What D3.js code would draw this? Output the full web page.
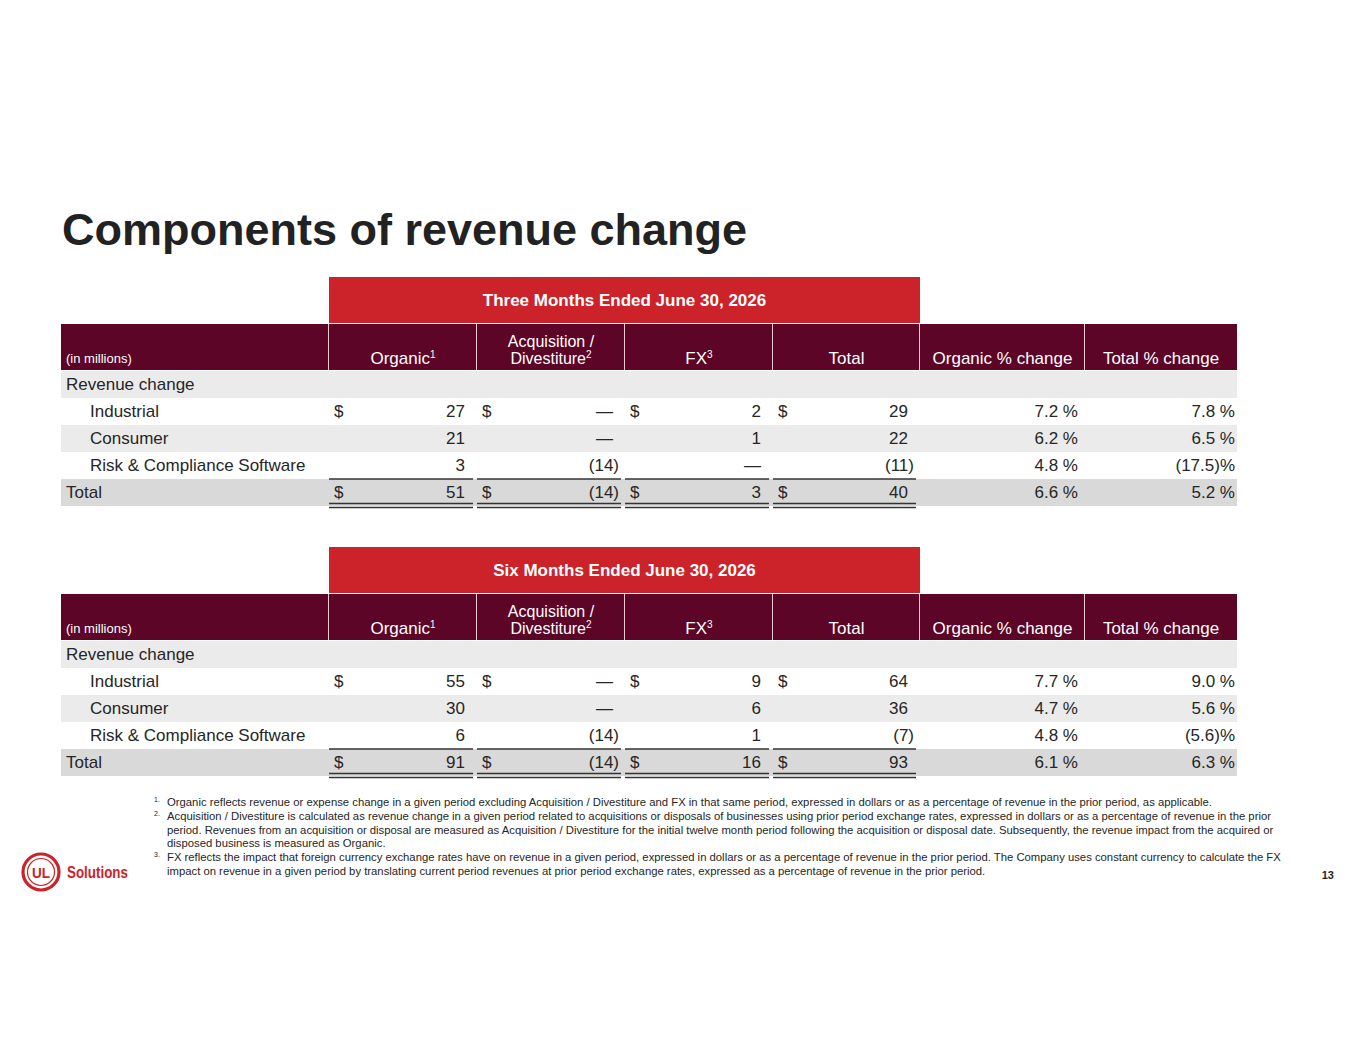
<!DOCTYPE html>
<html>
<head>
<meta charset="utf-8">
<script src="https://cdn.jsdelivr.net/npm/d3@7"></script>
<style>
  html, body { margin: 0; padding: 0; background: #fff; }
  svg { display: block; font-family: "Liberation Sans", Arial, sans-serif; }
</style>
</head>
<body>
<svg id="slide" width="1365" height="1055"></svg>
<script>
// ---- data ----
var pageTitle = "Components of revenue change";
var periodTitles = ["Three Months Ended June 30, 2026", "Six Months Ended June 30, 2026"];
var segments = ["Industrial", "Consumer", "Risk & Compliance Software"];
var columnHeaders = [["Organic", "1"], ["Acquisition /", "Divestiture", "2"], ["FX", "3"], ["Total", ""], ["Organic % change", ""], ["Total % change", ""]];

// three months (null = dash)
var threeOrganic   = [27, 21, 3];
var threeAcq       = [null, null, -14];
var threeFx        = [2, 1, null];
var threeTotal     = [29, 22, -11];
var threeOrgPct    = [7.2, 6.2, 4.8];
var threeTotPct    = [7.8, 6.5, -17.5];
var threeTotalsRow = [51, -14, 3, 40, 6.6, 5.2];

// six months
var sixOrganic   = [55, 30, 6];
var sixAcq       = [null, null, -14];
var sixFx        = [9, 6, 1];
var sixTotal     = [64, 36, -7];
var sixOrgPct    = [7.7, 4.7, 4.8];
var sixTotPct    = [9.0, 5.6, -5.6];
var sixTotalsRow = [91, -14, 16, 93, 6.1, 6.3];

var footnotes = [
  ["1.", ["Organic reflects revenue or expense change in a given period excluding Acquisition / Divestiture and FX in that same period, expressed in dollars or as a percentage of revenue in the prior period, as applicable."]],
  ["2.", ["Acquisition / Divestiture is calculated as revenue change in a given period related to acquisitions or disposals of businesses using prior period exchange rates, expressed in dollars or as a percentage of revenue in the prior",
          "period. Revenues from an acquisition or disposal are measured as Acquisition / Divestiture for the initial twelve month period following the acquisition or disposal date. Subsequently, the revenue impact from the acquired or",
          "disposed business is measured as Organic."]],
  ["3.", ["FX reflects the impact that foreign currency exchange rates have on revenue in a given period, expressed in dollars or as a percentage of revenue in the prior period. The Company uses constant currency to calculate the FX",
          "impact on revenue in a given period by translating current period revenues at prior period exchange rates, expressed as a percentage of revenue in the prior period."]]
];
var pageNumber = "13";

// ---- style / layout ----
var RED = "#cc2229", MAROON = "#5c0527", TEXT = "#262626";
var LIGHT = "#ebebeb", DARK = "#d9d9d9", RULE = "#333";
var colWidths = [268, 148, 148, 148, 147, 165, 152];
var tableLeft = 61;
var rowH = 27, headH = 46;

var svg = d3.select("#slide");

// column x via a linear scale over cumulative width
var edges = [0].concat(Array.from(d3.cumsum(colWidths)));
var xs = d3.scaleLinear().domain([0, 1]).range([tableLeft, tableLeft + 1]);
function colL(i) { return xs(edges[i]); }
function colR(i) { return xs(edges[i + 1]); }

function fmtVal(v) {
  if (v === null) return "—";
  if (v < 0) return "(" + Math.abs(v) + ")";
  return String(v);
}
function fmtPct(v) {
  if (v < 0) return "(" + Math.abs(v).toFixed(1) + ")%";
  return v.toFixed(1) + " %";
}

svg.append("text")
  .attr("x", 62).attr("y", 245)
  .attr("font-size", 45).attr("font-weight", "bold")
  .attr("fill", "#222")
  .text(pageTitle);

function drawTable(top, title, cols, totalsRow) {
  var g = svg.append("g");
  var bandTop = top, headTop = top + headH + 1, bodyTop = headTop + headH + 1;

  // red period band
  g.append("rect")
    .attr("x", colL(1)).attr("y", bandTop)
    .attr("width", colR(4) - colL(1)).attr("height", headH)
    .attr("fill", RED);
  g.append("text")
    .attr("x", (colL(1) + colR(4)) / 2).attr("y", bandTop + 29)
    .attr("text-anchor", "middle").attr("fill", "#fff")
    .attr("font-size", 17).attr("font-weight", "bold")
    .text(title);

  // header row
  g.append("rect")
    .attr("x", colL(0)).attr("y", headTop)
    .attr("width", colR(6) - colL(0)).attr("height", headH)
    .attr("fill", MAROON);
  d3.range(1, 7).forEach(function(i) {
    g.append("line")
      .attr("x1", colL(i) - 0.5).attr("x2", colL(i) - 0.5)
      .attr("y1", headTop).attr("y2", headTop + headH)
      .attr("stroke", "#e9c9cf").attr("stroke-width", 1);
  });
  g.append("text")
    .attr("x", colL(0) + 5).attr("y", headTop + 39)
    .attr("fill", "#fff").attr("font-size", 13)
    .text("(in millions)");
  columnHeaders.forEach(function(h, i) {
    var cx = (colL(i + 1) + colR(i + 1)) / 2;
    var lines = h.length === 3 ? [h[0], h[1]] : [h[0]];
    var sup = h[h.length - 1];
    lines.forEach(function(line, j) {
      var t = g.append("text")
        .attr("x", cx).attr("y", headTop + 40 - (lines.length - 1 - j) * 17)
        .attr("text-anchor", "middle").attr("fill", "#fff")
        .attr("font-size", lines.length > 1 ? 16 : 17);
      t.append("tspan").text(line);
      if (j === lines.length - 1 && sup) {
        t.append("tspan").attr("font-size", 10).attr("dy", -6).text(sup);
      }
    });
  });

  // body rows
  var rowNames = ["Revenue change"].concat(segments).concat(["Total"]);
  var y = d3.scaleBand().domain(d3.range(rowNames.length))
    .range([bodyTop, bodyTop + rowH * rowNames.length]).padding(0);
  var fills = [LIGHT, "#fff", LIGHT, "#fff", DARK];

  g.selectAll(".rowbg").data(rowNames).join("rect")
    .attr("x", colL(0)).attr("y", function(d, i) { return y(i); })
    .attr("width", colR(6) - colL(0)).attr("height", y.bandwidth())
    .attr("fill", function(d, i) { return fills[i]; });

  g.selectAll(".rowlabel").data(rowNames).join("text")
    .attr("x", function(d, i) { return (i === 0 || i === rowNames.length - 1) ? colL(0) + 5 : colL(0) + 29; })
    .attr("y", function(d, i) { return y(i) + 19; })
    .attr("fill", TEXT).attr("font-size", 17)
    .text(function(d) { return d; });

  function cell(ci, ri, v, isPct, dollar) {
    var str = isPct ? fmtPct(v) : fmtVal(v);
    var right = colR(ci + 1);
    var xEnd = (v !== null && v < 0) ? right - 6 : right - 12;
    if (isPct) xEnd = (ci === 4) ? right - 7 : right - 2;
    g.append("text")
      .attr("x", xEnd).attr("y", y(ri) + 19)
      .attr("text-anchor", "end").attr("fill", TEXT).attr("font-size", 17)
      .text(str);
    if (dollar) {
      g.append("text")
        .attr("x", colL(ci + 1) + 5).attr("y", y(ri) + 19)
        .attr("fill", TEXT).attr("font-size", 17)
        .text("$");
    }
  }

  segments.forEach(function(s, si) {
    cols.forEach(function(arr, ci) {
      cell(ci, si + 1, arr[si], ci >= 4, si === 0 && ci < 4);
    });
  });
  totalsRow.forEach(function(v, ci) {
    cell(ci, rowNames.length - 1, v, ci >= 4, ci < 4);
  });

  // rules under value columns
  var totTop = y(rowNames.length - 1), totBot = totTop + y.bandwidth();
  d3.range(1, 5).forEach(function(i) {
    [totTop, totBot - 2.5, totBot + 1.5].forEach(function(ly) {
      g.append("line")
        .attr("x1", colL(i)).attr("x2", colR(i) - 4)
        .attr("y1", ly).attr("y2", ly)
        .attr("stroke", RULE).attr("stroke-width", 1.6);
    });
  });
}

drawTable(277, periodTitles[0], [threeOrganic, threeAcq, threeFx, threeTotal, threeOrgPct, threeTotPct], threeTotalsRow);
drawTable(547, periodTitles[1], [sixOrganic, sixAcq, sixFx, sixTotal, sixOrgPct, sixTotPct], sixTotalsRow);

// footnotes
var fy = 806;
footnotes.forEach(function(fn) {
  svg.append("text")
    .attr("x", 154).attr("y", fy - 4)
    .attr("font-size", 7).attr("fill", TEXT)
    .text(fn[0]);
  fn[1].forEach(function(line) {
    svg.append("text")
      .attr("x", 167).attr("y", fy)
      .attr("font-size", 11.3).attr("fill", TEXT)
      .text(line);
    fy += 13.8;
  });
});

svg.append("text")
  .attr("x", 1334).attr("y", 879)
  .attr("text-anchor", "end").attr("font-size", 11).attr("font-weight", "bold")
  .attr("fill", TEXT).text(pageNumber);

// logo
var logo = svg.append("g").attr("transform", "translate(41,872)");
logo.append("circle").attr("r", 18).attr("fill", "none").attr("stroke", RED).attr("stroke-width", 3.2);
logo.append("circle").attr("r", 13.5).attr("fill", "none").attr("stroke", RED).attr("stroke-width", 1.2);
logo.append("text").attr("x", 0).attr("y", 6).attr("text-anchor", "middle")
  .attr("font-size", 15).attr("font-weight", "bold").attr("fill", RED)
  .attr("textLength", 18).attr("lengthAdjust", "spacingAndGlyphs").text("UL");
svg.append("text").attr("x", 67).attr("y", 878)
  .attr("font-size", 16).attr("font-weight", "bold").attr("fill", RED)
  .attr("textLength", 61).attr("lengthAdjust", "spacingAndGlyphs")
  .text("Solutions");
</script>
</body>
</html>
